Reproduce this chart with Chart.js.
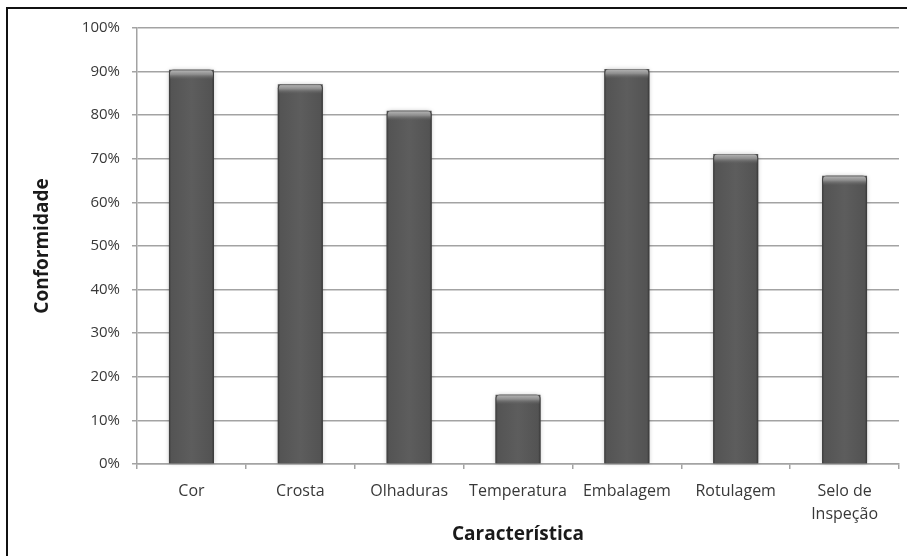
<!DOCTYPE html>
<html lang="pt">
<head>
<meta charset="utf-8">
<title>Conformidade por característica</title>
<script src="https://cdn.jsdelivr.net/npm/chart.js@4.4.1/dist/chart.umd.min.js"></script>
<style>
  html, body { margin: 0; padding: 0; background: #fff; overflow: hidden; }
  #wrap { position: relative; width: 907px; height: 556px; }
  #frame {
    position: absolute; left: 6px; top: 7px; width: 1000px; height: 1000px;
    border-left: 2px solid #111; border-top: 2px solid #111; pointer-events: none;
  }
  canvas { position: absolute; left: 0; top: 0; }
</style>
</head>
<body>
<div id="wrap">
  <canvas id="chart" width="907" height="556"></canvas>
  <div id="frame"></div>
</div>
<script>
// Categorias avaliadas e percentual de conformidade de cada uma
const categorias = ['Cor', 'Crosta', 'Olhaduras', 'Temperatura', 'Embalagem', 'Rotulagem', ['Selo de', 'Inspeção']];
const conformidade = [90.4, 87.1, 81.0, 15.9, 90.6, 71.1, 66.1];
const yTicks = [0, 10, 20, 30, 40, 50, 60, 70, 80, 90, 100];

const labelFont = 'Open Sans';
const gridColor = '#a3a3a3';

// Sombreado cilíndrico das colunas com topo chanfrado
const bevelBars = {
  id: 'bevelBars',
  afterDatasetDraw(chart, args) {
    const meta = args.meta;
    const ctx = chart.ctx;
    ctx.save();
    meta.data.forEach(bar => {
      const { x, y, base, width } = bar.getProps(['x', 'y', 'base', 'width'], true);
      const left = x - width / 2, right = x + width / 2;
      const h = base - y;
      // halo suave
      ctx.save();
      ctx.shadowColor = 'rgba(0,0,0,0.22)';
      ctx.shadowBlur = 4;
      const body = ctx.createLinearGradient(left, 0, right, 0);
      body.addColorStop(0, '#3a3a3a');
      body.addColorStop(0.05, '#545454');
      body.addColorStop(0.5, '#5d5d5d');
      body.addColorStop(0.95, '#535353');
      body.addColorStop(1, '#363636');
      ctx.fillStyle = body;
      const r = 4;
      ctx.beginPath();
      ctx.moveTo(left, base);
      ctx.lineTo(left, y + r);
      ctx.quadraticCurveTo(left, y, left + r, y);
      ctx.lineTo(right - r, y);
      ctx.quadraticCurveTo(right, y, right, y + r);
      ctx.lineTo(right, base);
      ctx.closePath();
      ctx.fill();
      ctx.restore();
      // faixa clara do topo
      const capH = Math.min(10, h);
      const cap = ctx.createLinearGradient(0, y, 0, y + capH);
      cap.addColorStop(0, '#707070');
      cap.addColorStop(0.15, '#aaaaaa');
      cap.addColorStop(0.45, '#8e8e8e');
      cap.addColorStop(1, 'rgba(93,93,93,0)');
      ctx.fillStyle = cap;
      ctx.beginPath();
      ctx.moveTo(left + 1, y + capH);
      ctx.lineTo(left + 1, y + r);
      ctx.quadraticCurveTo(left + 1, y, left + r + 1, y);
      ctx.lineTo(right - r - 1, y);
      ctx.quadraticCurveTo(right - 1, y, right - 1, y + r);
      ctx.lineTo(right - 1, y + capH);
      ctx.closePath();
      ctx.fill();
    });
    ctx.restore();
  }
};

new Chart(document.getElementById('chart'), {
  type: 'bar',
  data: {
    labels: categorias,
    datasets: [{
      label: 'Conformidade',
      data: conformidade,
      backgroundColor: '#5c5c5c',
      borderWidth: 0,
      categoryPercentage: 1,
      barPercentage: 0.413
    }]
  },
  options: {
    responsive: false,
    devicePixelRatio: 1,
    animation: false,
    layout: { padding: { top: 28, right: 8, bottom: 0, left: 0 } },
    plugins: { legend: { display: false }, tooltip: { enabled: false } },
    scales: {
      x: {
        grid: { drawOnChartArea: false, drawTicks: true, tickLength: 5, color: gridColor, lineWidth: 1.5 },
        border: { display: true, color: gridColor, width: 1.5 },
        ticks: {
          color: '#383838', padding: 11, maxRotation: 0, autoSkip: false,
          font: { family: labelFont, size: 16, lineHeight: 1.45 }
        },
        title: {
          display: true, text: 'Característica', color: '#1a1a1a',
          font: { family: labelFont, size: 19, weight: 'bold', lineHeight: 1.2 },
          padding: { top: 0, bottom: 10 }
        },
        afterFit: s => { s.height = 92; }
      },
      y: {
        min: 0, max: 100,
        afterBuildTicks: s => { s.ticks = yTicks.map(v => ({ value: v })); },
        grid: { color: gridColor, lineWidth: 1.5, tickLength: 5, drawTicks: true },
        border: { display: true, color: gridColor, width: 1.5 },
        ticks: {
          color: '#383838', padding: 12,
          font: { family: labelFont, size: 15 },
          callback: v => v + '%'
        },
        title: {
          display: true, text: 'Conformidade', color: '#1a1a1a',
          font: { family: labelFont, size: 19, weight: 'bold', lineHeight: 1.2 },
          padding: { top: 31, bottom: 0 }
        },
        afterFit: s => { s.width = 137; }
      }
    }
  },
  plugins: [bevelBars]
});
</script>
</body>
</html>
